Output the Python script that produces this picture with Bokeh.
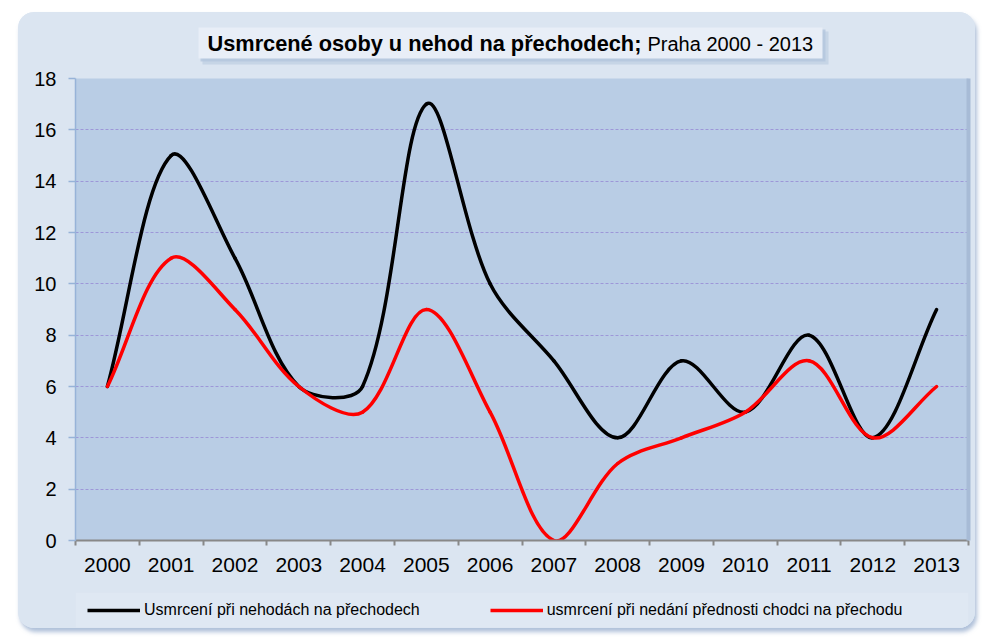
import numpy as np
from bokeh.plotting import figure
from bokeh.layouts import column
from bokeh.models import Range1d, FixedTicker, Legend, LegendItem, LinearAxis
from bokeh.core.properties import value
from bokeh.embed import file_html
from bokeh.resources import INLINE

# ---- data ----
years = [2000, 2001, 2002, 2003, 2004, 2005, 2006, 2007, 2008, 2009, 2010, 2011, 2012, 2013]
year_labels = [str(y) for y in years]
killed_total = [6, 15, 11, 6, 6, 17, 10, 7, 4, 7, 5, 8, 4, 9]
killed_no_priority = [6, 11, 9, 6, 5, 9, 5, 0, 3, 4, 5, 7, 4, 6]
y_ticks = [0, 2, 4, 6, 8, 10, 12, 14, 16, 18]
series_names = ["Usmrcení při nehodách na přechodech",
                "usmrcení při nedání přednosti chodci na přechodu"]
series_colors = ["black", "#ff0000"]
title_bold = "Usmrcené osoby u nehod na přechodech;"
title_rest = " Praha 2000 - 2013"

# ---- layout / style constants ----
FONT = "Liberation Sans"
PANEL = "#dbe5f1"
W = 957
H_TITLE, H_LEGEND = 54, 36
ML, MR, MT, MB = 57, 7, 12, 52
FRAME_H = 462
H_MAIN = MT + FRAME_H + MB

SX = (W - ML - MR) / len(years)
SY = FRAME_H / (y_ticks[-1] - y_ticks[0])


def smooth(xs, ys, f=1.0 / 6.0):
    """Bezier control points (Excel-like smoothing, computed in screen space)."""
    P = np.column_stack([np.asarray(xs, float) * SX, np.asarray(ys, float) * SY])
    n = len(P)
    segs = {k: [] for k in ("x0", "y0", "x1", "y1", "cx0", "cy0", "cx1", "cy1")}
    for i in range(n - 1):
        p0 = P[i - 1] if i > 0 else P[i]
        p1, p2 = P[i], P[i + 1]
        p3 = P[i + 2] if i + 2 < n else P[i + 1]
        d01, d12, d23 = (np.linalg.norm(p1 - p0), np.linalg.norm(p2 - p1),
                         np.linalg.norm(p3 - p2))
        c1 = p1 + (p2 - p0) * f * 2 * d12 / (d01 + d12)
        c2 = p2 - (p3 - p1) * f * 2 * d12 / (d12 + d23)
        for key, v in (("x0", p1[0] / SX), ("y0", p1[1] / SY), ("x1", p2[0] / SX),
                       ("y1", p2[1] / SY), ("cx0", c1[0] / SX), ("cy0", c1[1] / SY),
                       ("cx1", c2[0] / SX), ("cy1", c2[1] / SY)):
            segs[key].append(float(v))
    return segs


def deco_fig(h):
    # frame aligned with the main chart frame; x in panel-relative pixels
    f = figure(width=W, height=h, output_backend="svg", toolbar_location=None,
               x_range=Range1d(ML, W - MR), y_range=Range1d(h, 0),
               x_axis_type=None, y_axis_type=None,
               min_border_left=ML, min_border_right=MR,
               min_border_top=0, min_border_bottom=0,
               border_fill_color=PANEL, background_fill_color=PANEL)
    f.outline_line_color = None
    f.grid.visible = False
    return f


# ---- title figure ----
ft = deco_fig(H_TITLE)
ft.quad(left=[184], right=[810], top=[19], bottom=[52], fill_color="#b8c9df", fill_alpha=0.6, line_color=None)
ft.quad(left=[182], right=[807], top=[17], bottom=[49], fill_color="#b3c5dd", fill_alpha=0.8, line_color=None)
ft.quad(left=[180], right=[804], top=[15], bottom=[46], fill_color="#e8eef7", line_color=None)
ft.text(x=[189], y=[31], text=[title_bold], text_font=value(FONT), text_font_style="bold",
        text_font_size="21.75px", text_baseline="middle", text_align="left", text_color="black")
ft.text(x=[629], y=[31], text=[title_rest], text_font=value(FONT),
        text_font_size="20px", text_baseline="middle", text_align="left", text_color="black")

# ---- main chart ----
p = figure(width=W, height=H_MAIN, output_backend="svg", toolbar_location=None,
           x_range=Range1d(years[0] - 0.5, years[-1] + 0.5),
           y_range=Range1d(y_ticks[0], y_ticks[-1]),
           min_border_left=ML, min_border_right=MR, min_border_top=MT, min_border_bottom=MB,
           border_fill_color=PANEL, background_fill_color="#b9cde5")
p.outline_line_color = None

p.xgrid.visible = False
p.ygrid.ticker = FixedTicker(ticks=y_ticks)
p.ygrid.grid_line_color = "#9d97d8"
p.ygrid.grid_line_dash = "3 2"
p.ygrid.grid_line_width = 1

ya = p.yaxis[0]
ya.ticker = FixedTicker(ticks=y_ticks)
ya.axis_line_color = "#97b3d8"
ya.axis_line_width = 1.5
ya.major_tick_line_color = "#97b3d8"
ya.major_tick_line_width = 1.5
ya.major_tick_out = 7
ya.major_tick_in = 0
ya.minor_tick_line_color = None
ya.major_label_text_font = FONT
ya.major_label_text_font_size = "20px"
ya.major_label_text_color = "black"
ya.major_label_standoff = 12

xa = p.xaxis[0]
xa.ticker = FixedTicker(ticks=years, minor_ticks=[y - 0.5 for y in years] + [years[-1] + 0.5])
xa.major_label_overrides = {y: lab for y, lab in zip(years, year_labels)}
xa.axis_line_color = "#888888"
xa.axis_line_width = 2
xa.major_tick_line_color = None
xa.major_tick_out = 0
xa.major_tick_in = 0
xa.minor_tick_line_color = "#888888"
xa.minor_tick_line_width = 2
xa.minor_tick_out = 5
xa.minor_tick_in = 0
xa.major_label_text_font = FONT
xa.major_label_text_font_size = "21px"
xa.major_label_text_color = "black"
xa.major_label_standoff = 12

# right edge shadow of the plot area, drawn as a tick-less axis line
shadow_axis = LinearAxis(ticker=FixedTicker(ticks=[]), axis_line_color="#a7bbd6",
                         axis_line_width=4, major_tick_line_color=None,
                         minor_tick_line_color=None, major_tick_out=0, major_tick_in=0,
                         minor_tick_out=0, major_label_standoff=0,
                         major_label_text_font_size="0px")
p.add_layout(shadow_axis, "right")

for vals, col in zip([killed_total, killed_no_priority], series_colors):
    p.bezier(line_color=col, line_width=3.5, line_cap="round", **smooth(years, vals))

# ---- legend figure ----
fl = deco_fig(H_LEGEND)
fl.quad(left=[ML], right=[W - MR], top=[0], bottom=[H_LEGEND - 1], fill_color="#dfe8f3", line_color=None)
items = []
for name, col in zip(series_names, series_colors):
    r = fl.line(x=[np.nan], y=[np.nan], line_color=col, line_width=3.5)
    items.append(LegendItem(label=name, renderers=[r]))
legend = Legend(items=items, location="center_left", orientation="horizontal",
                background_fill_alpha=0, border_line_color=None,
                label_text_font=FONT, label_text_font_size="16px", label_text_color="black",
                glyph_width=53, glyph_height=20, label_standoff=4, spacing=70,
                padding=5, margin=12)
fl.add_layout(legend, "center")

layout = column(ft, p, fl, spacing=0, margin=(12, 0, 0, 18),
                styles={"border-radius": "16px", "overflow": "hidden",
                        "background-color": PANEL,
                        "box-shadow": "2px 4px 4px rgba(110, 140, 185, 0.55)"})

open("out.html", "w").write(file_html(layout, INLINE))
